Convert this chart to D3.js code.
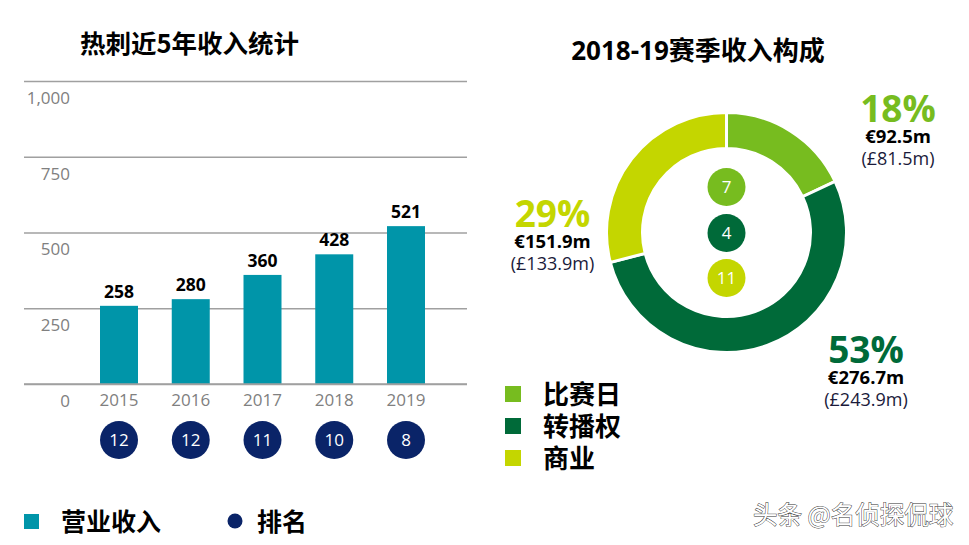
<!DOCTYPE html>
<html><head><meta charset="utf-8">
<script src="https://cdn.jsdelivr.net/npm/d3@7"></script>
<style>
body{margin:0;background:#fff;}
text{font-family:"Open Sans","Noto Sans CJK SC",sans-serif;}
.cjk{font-family:"Noto Sans CJK SC","Open Sans",sans-serif;}
</style></head>
<body><svg id="c" width="969" height="545"></svg>
<script>
// ---- data ----
const years = ["2015","2016","2017","2018","2019"];
const revenue = [258, 280, 360, 428, 521];
const ranks = [12, 12, 11, 10, 8];
const yTicks = [0, 250, 500, 750, 1000];

const segNames = ["比赛日", "转播权", "商业"];
const segShares = [18, 53, 29];
const segEuro = ["€92.5m", "€276.7m", "€151.9m"];
const segPound = ["(£81.5m)", "(£243.9m)", "(£133.9m)"];
const segRanks = [7, 4, 11];
const segColors = ["#77bc1f", "#006a39", "#c4d600"];

const svg = d3.select("#c");
const teal = "#0095a9", navy = "#0a2468";

// ---- left bar chart ----
svg.append("text").attr("class","cjk").attr("x",80).attr("y",53)
  .attr("font-size",25.5).attr("font-weight","bold").attr("fill","#000").text("热刺近5年收入统计");

const y = d3.scaleLinear().domain([0,1000]).range([384,81]);
const x = d3.scalePoint().domain(years).range([119,406]);
const barW = 38;

const ax = svg.append("g").attr("transform","translate(467,0)")
  .call(d3.axisLeft(y).tickValues(yTicks).tickSize(443).tickFormat(d3.format(",")));
ax.select(".domain").remove();
ax.selectAll(".tick line").attr("stroke","#a0a0a0").attr("stroke-width",1.5);
ax.selectAll(".tick text").attr("x",-397).attr("dy","1.32em").attr("text-anchor","end")
  .attr("font-size",17).attr("fill","#808080").attr("font-family","Open Sans");

svg.append("g").selectAll("rect").data(revenue).join("rect")
  .attr("x",(d,i)=>x(years[i])-barW/2).attr("y",d=>y(d))
  .attr("width",barW).attr("height",d=>y(0)-y(d)).attr("fill",teal);
svg.append("line").attr("x1",24).attr("x2",467).attr("y1",y(0)).attr("y2",y(0))
  .attr("stroke","#a0a0a0").attr("stroke-width",1.5);

svg.append("g").selectAll("text").data(revenue).join("text")
  .attr("x",(d,i)=>x(years[i])).attr("y",d=>y(d)-8).attr("text-anchor","middle")
  .attr("font-size",17.5).attr("font-weight","bold").attr("fill","#000").text(d=>d);

svg.append("g").selectAll("text").data(years).join("text")
  .attr("x",d=>x(d)).attr("y",406).attr("text-anchor","middle")
  .attr("font-size",17).attr("fill","#808080").text(d=>d);

const rk = svg.append("g").selectAll("g").data(ranks).join("g")
  .attr("transform",(d,i)=>`translate(${x(years[i])},440)`);
rk.append("circle").attr("r",19).attr("fill",navy);
rk.append("text").attr("text-anchor","middle").attr("dy","0.36em")
  .attr("font-size",17).attr("fill","#fff").text(d=>d);

// left legend
svg.append("rect").attr("x",24).attr("y",514).attr("width",15).attr("height",15).attr("fill",teal);
svg.append("text").attr("class","cjk").attr("x",61).attr("y",531).attr("font-size",25)
  .attr("font-weight","bold").attr("fill","#000").text("营业收入");
svg.append("circle").attr("cx",235).attr("cy",521).attr("r",7.5).attr("fill",navy);
svg.append("text").attr("class","cjk").attr("x",257).attr("y",531).attr("font-size",25)
  .attr("font-weight","bold").attr("fill","#000").text("排名");

// ---- right donut ----
svg.append("text").attr("x",698).attr("y",59.5).attr("text-anchor","middle")
  .attr("font-size",26).attr("font-weight","bold").attr("fill","#000").text("2018-19赛季收入构成");

const cx = 726.5, cy = 232.5;
const pie = d3.pie().sort(null).value(d=>d)(segShares);
const arc = d3.arc().innerRadius(84).outerRadius(120);
const dg = svg.append("g").attr("transform",`translate(${cx},${cy})`);
dg.selectAll("path").data(pie).join("path").attr("d",arc)
  .attr("fill",(d,i)=>segColors[i]).attr("stroke","#fff").attr("stroke-width",3);

const rcY = [187, 233, 278];
const rc = svg.append("g").selectAll("g").data(segRanks).join("g")
  .attr("transform",(d,i)=>`translate(${cx},${rcY[i]})`);
rc.append("circle").attr("r",19).attr("fill",(d,i)=>segColors[i]);
rc.append("text").attr("text-anchor","middle").attr("dy","0.36em")
  .attr("font-size",17).attr("fill","#fff").text(d=>d);

const labPos = [[898,122],[866,363],[552.5,227]];
const lg = svg.append("g").selectAll("g").data(segShares).join("g")
  .attr("transform",(d,i)=>`translate(${labPos[i][0]},${labPos[i][1]})`);
lg.append("text").attr("text-anchor","middle").attr("y",0).attr("font-size",37)
  .attr("font-weight","bold").attr("fill",(d,i)=>segColors[i]).text(d=>d+"%");
lg.append("text").attr("text-anchor","middle").attr("y",21).attr("font-size",18.5)
  .attr("font-weight","bold").attr("fill","#000").text((d,i)=>segEuro[i]);
lg.append("text").attr("text-anchor","middle").attr("y",43).attr("font-size",18)
  .attr("fill","#1a1a3a").text((d,i)=>segPound[i]);

const rl = svg.append("g").selectAll("g").data(segNames).join("g")
  .attr("transform",(d,i)=>`translate(505,${386+i*32})`);
rl.append("rect").attr("width",16).attr("height",16).attr("fill",(d,i)=>segColors[i]);
rl.append("text").attr("class","cjk").attr("x",38).attr("y",17.5).attr("font-size",26)
  .attr("font-weight","bold").attr("fill","#000").text(d=>d);

// watermark
svg.append("text").attr("class","cjk").attr("x",753).attr("y",524).attr("font-size",24.5)
  .attr("fill","#fff").attr("stroke","#333").attr("stroke-width",0.9).attr("paint-order","stroke")
  .text("头条 @名侦探侃球");
</script></body></html>
